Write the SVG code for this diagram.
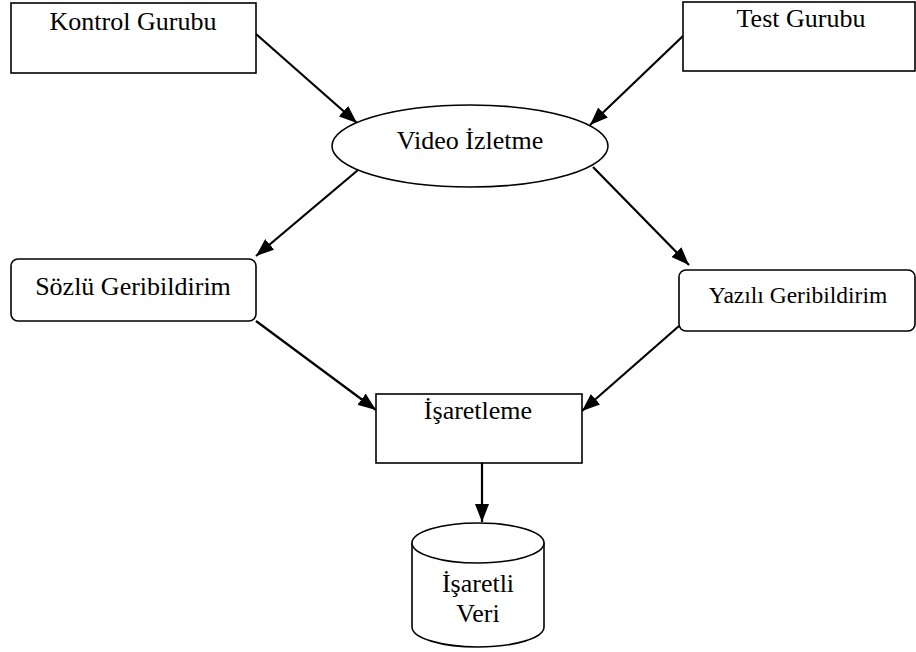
<svg xmlns="http://www.w3.org/2000/svg" width="916" height="652" viewBox="0 0 916 652">
<style>
.box{fill:#fff;stroke:#000;stroke-width:1.6}
.t{font-family:"Liberation Serif","Times New Roman",serif;font-size:26px;fill:#000;text-anchor:middle}
.c{stroke:#000;stroke-width:2.2;fill:none;marker-end:url(#ah)}
</style>
<defs>
<marker id="ah" viewBox="0 0 18 14" refX="18" refY="7" markerWidth="18" markerHeight="14" markerUnits="userSpaceOnUse" orient="auto">
<path d="M0,0 L18,7 L0,14 z" fill="#000"/>
</marker>
</defs>
<rect width="916" height="652" fill="#fff"/>
<g id="connectors">
<line class="c" x1="256" y1="34" x2="357" y2="123"/>
<line class="c" x1="683" y1="36" x2="590" y2="125"/>
<line class="c" x1="358" y1="170" x2="256" y2="256"/>
<line class="c" x1="593" y1="167" x2="689" y2="265"/>
<line class="c" x1="256" y1="321" x2="376" y2="410"/>
<line class="c" x1="679" y1="326" x2="582" y2="411"/>
<line class="c" x1="482" y1="463" x2="482" y2="522"/>
</g>
<g id="kontrol">
<rect class="box" x="11" y="3" width="245" height="70"/>
<text class="t" x="133" y="30">Kontrol Gurubu</text>
</g>
<g id="test">
<rect class="box" x="683" y="2" width="232" height="69"/>
<text class="t" x="801" y="27">Test Gurubu</text>
</g>
<g id="video">
<ellipse class="box" cx="470" cy="146" rx="138" ry="41"/>
<text class="t" x="470" y="149">Video İzletme</text>
</g>
<g id="sozlu">
<rect class="box" x="11" y="259" width="245" height="62" rx="7"/>
<text class="t" x="133" y="295">Sözlü Geribildirim</text>
</g>
<g id="yazili">
<rect class="box" x="679" y="270" width="236" height="61" rx="7"/>
<text class="t" x="798" y="303" style="font-size:23.5px">Yazılı Geribildirim</text>
</g>
<g id="isaretleme">
<rect class="box" x="376" y="394" width="206" height="69"/>
<text class="t" x="478" y="419">İşaretleme</text>
</g>
<g id="veri">
<path class="box" d="M412,543 L412,627 A66,20 0 0 0 544,627 L544,543"/>
<ellipse class="box" cx="478" cy="543" rx="66" ry="20"/>
<text class="t" x="478" y="592">İşaretli</text>
<text class="t" x="478" y="622">Veri</text>
</g>
</svg>
